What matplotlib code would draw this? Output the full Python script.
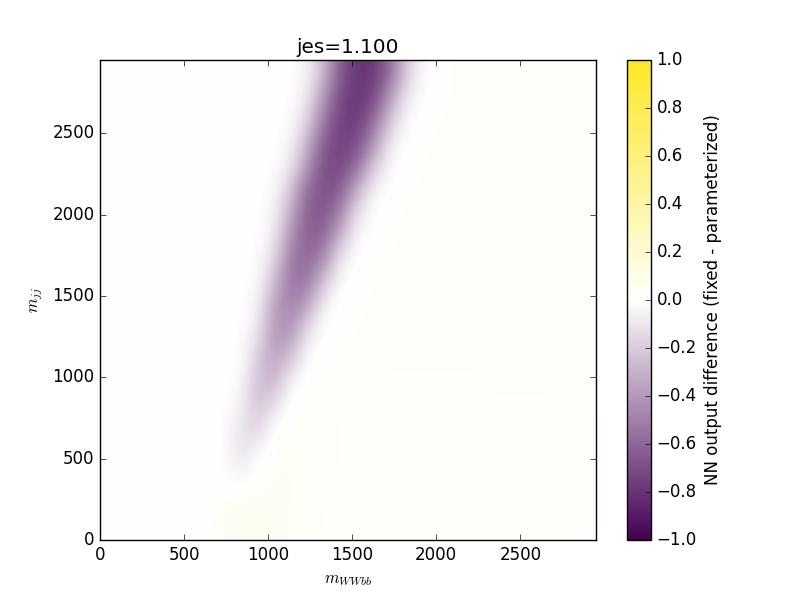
import matplotlib
matplotlib.use('Agg')
import matplotlib.pyplot as plt
from matplotlib.colors import LinearSegmentedColormap
import numpy as np

# mass range covered by the scan (GeV)
m_wwbb_range = [0, 2950]
m_jj_range = [0, 2950]

# NN output difference (fixed - parameterized) on a
# 30 (m_WWbb) x 20 (m_jj) grid; first row is the lowest m_jj
nn_diff = [
    [0] * 5 + [0.005, 0.02, 0.045, 0.065, 0.065, 0.05, 0.035, 0.028, 0.022] + [0.02] * 16,
    [0] * 5 + [0.0, 0.01, 0.03, 0.05, 0.055, 0.05, 0.04, 0.03, 0.025] + [0.02] * 16,
    [0] * 7 + [0.0, -0.025, 0.02, 0.045, 0.04, 0.03, 0.025] + [0.02] * 16,
    [0] * 7 + [0.0, -0.12, 0.0, 0.03, 0.04, 0.035, 0.03, 0.025] + [0.02] * 15,
    [0] * 7 + [0.0, -0.12, -0.16, 0.015, 0.035, 0.035, 0.03] + [0.02] * 16,
    [0] * 7 + [0.0, -0.06, -0.24, -0.11, 0.02, 0.03, 0.03, 0.028] + [0.018] * 12 + [0.025] * 3,
    [0] * 8 + [-0.016, -0.26, -0.28, -0.03, 0.01, 0.025, 0.028, 0.028, 0.028] + [0.018] * 6 + [0.028] * 7,
    [0] * 9 + [-0.20, -0.37, -0.22, 0.0, 0.015, 0.025] + [0.028] * 15,
    [0] * 9 + [-0.10, -0.41, -0.40, -0.09, 0.005, 0.02, 0.025] + [0.028] * 14,
    [0] * 9 + [-0.05, -0.38, -0.48, -0.30, -0.02, 0.01, 0.02] + [0.028] * 14,
    [0] * 9 + [-0.02, -0.29, -0.54, -0.51, -0.17, 0.0, 0.015, 0.025] + [0.028] * 13,
    [0] * 10 + [-0.17, -0.53, -0.59, -0.41, -0.06, 0.005, 0.02] + [0.028] * 13,
    [0] * 10 + [-0.08, -0.44, -0.63, -0.59, -0.25, -0.02, 0.005, 0.02] + [0.028] * 12,
    [0] * 10 + [-0.04, -0.34, -0.63, -0.66, -0.47, -0.10, 0.0, 0.015] + [0.028] * 12,
    [0] * 10 + [-0.02, -0.23, -0.59, -0.69, -0.63, -0.29, -0.03, 0.005, 0.02] + [0.028] * 11,
    [0] * 11 + [-0.09, -0.43, -0.70, -0.72, -0.57, -0.20, -0.02, 0.01, 0.025] + [0.028] * 10,
    [0] * 11 + [-0.04, -0.29, -0.65, -0.75, -0.71, -0.41, -0.08, 0.0, 0.02] + [0.028] * 10,
    [0] * 11 + [-0.01, -0.16, -0.53, -0.75, -0.77, -0.61, -0.22, -0.02, 0.01, 0.025] + [0.028] * 9,
    [0] * 12 + [-0.08, -0.40, -0.72, -0.79, -0.73, -0.41, -0.09, 0.0, 0.015] + [0.028] * 9,
    [0] * 12 + [-0.04, -0.27, -0.64, -0.80, -0.79, -0.59, -0.21, -0.02, 0.01] + [0.028] * 9,
]

cbar_ticks = [-1.0, -0.8, -0.6, -0.4, -0.2, 0.0, 0.2, 0.4, 0.6, 0.8, 1.0]
jes = 1.1


# Draws the difference map between the fixed and parameterized networks
def plot_difference(values, file_name) -> None:
    plt.style.use('classic')
    plt.rcParams['figure.facecolor'] = 'white'
    plt.rcParams['savefig.facecolor'] = 'white'

    cmap = LinearSegmentedColormap.from_list('diff', ['#440154', 'white', '#fde725'])

    fig = plt.figure(figsize=(8, 6), dpi=100)
    ax = fig.add_subplot(111)

    im = ax.imshow(np.array(values), cmap=cmap, vmin=-1, vmax=1,
                   origin='lower', aspect='auto', interpolation='bicubic',
                   extent=[m_wwbb_range[0], m_wwbb_range[1], m_jj_range[0], m_jj_range[1]])

    ax.set_xlim(m_wwbb_range)
    ax.set_ylim(m_jj_range)
    ax.set_title('jes=%.3f' % jes)
    ax.set_xlabel(r'$m_{WWbb}$')
    ax.set_ylabel(r'$m_{jj}$')

    cbar = fig.colorbar(im, ax=ax, ticks=cbar_ticks)
    cbar.set_label('NN output difference (fixed - parameterized)')

    fig.savefig(file_name, dpi=100)
    plt.close(fig)


if __name__ == '__main__':
    plot_difference(nn_diff, 'out.png')
